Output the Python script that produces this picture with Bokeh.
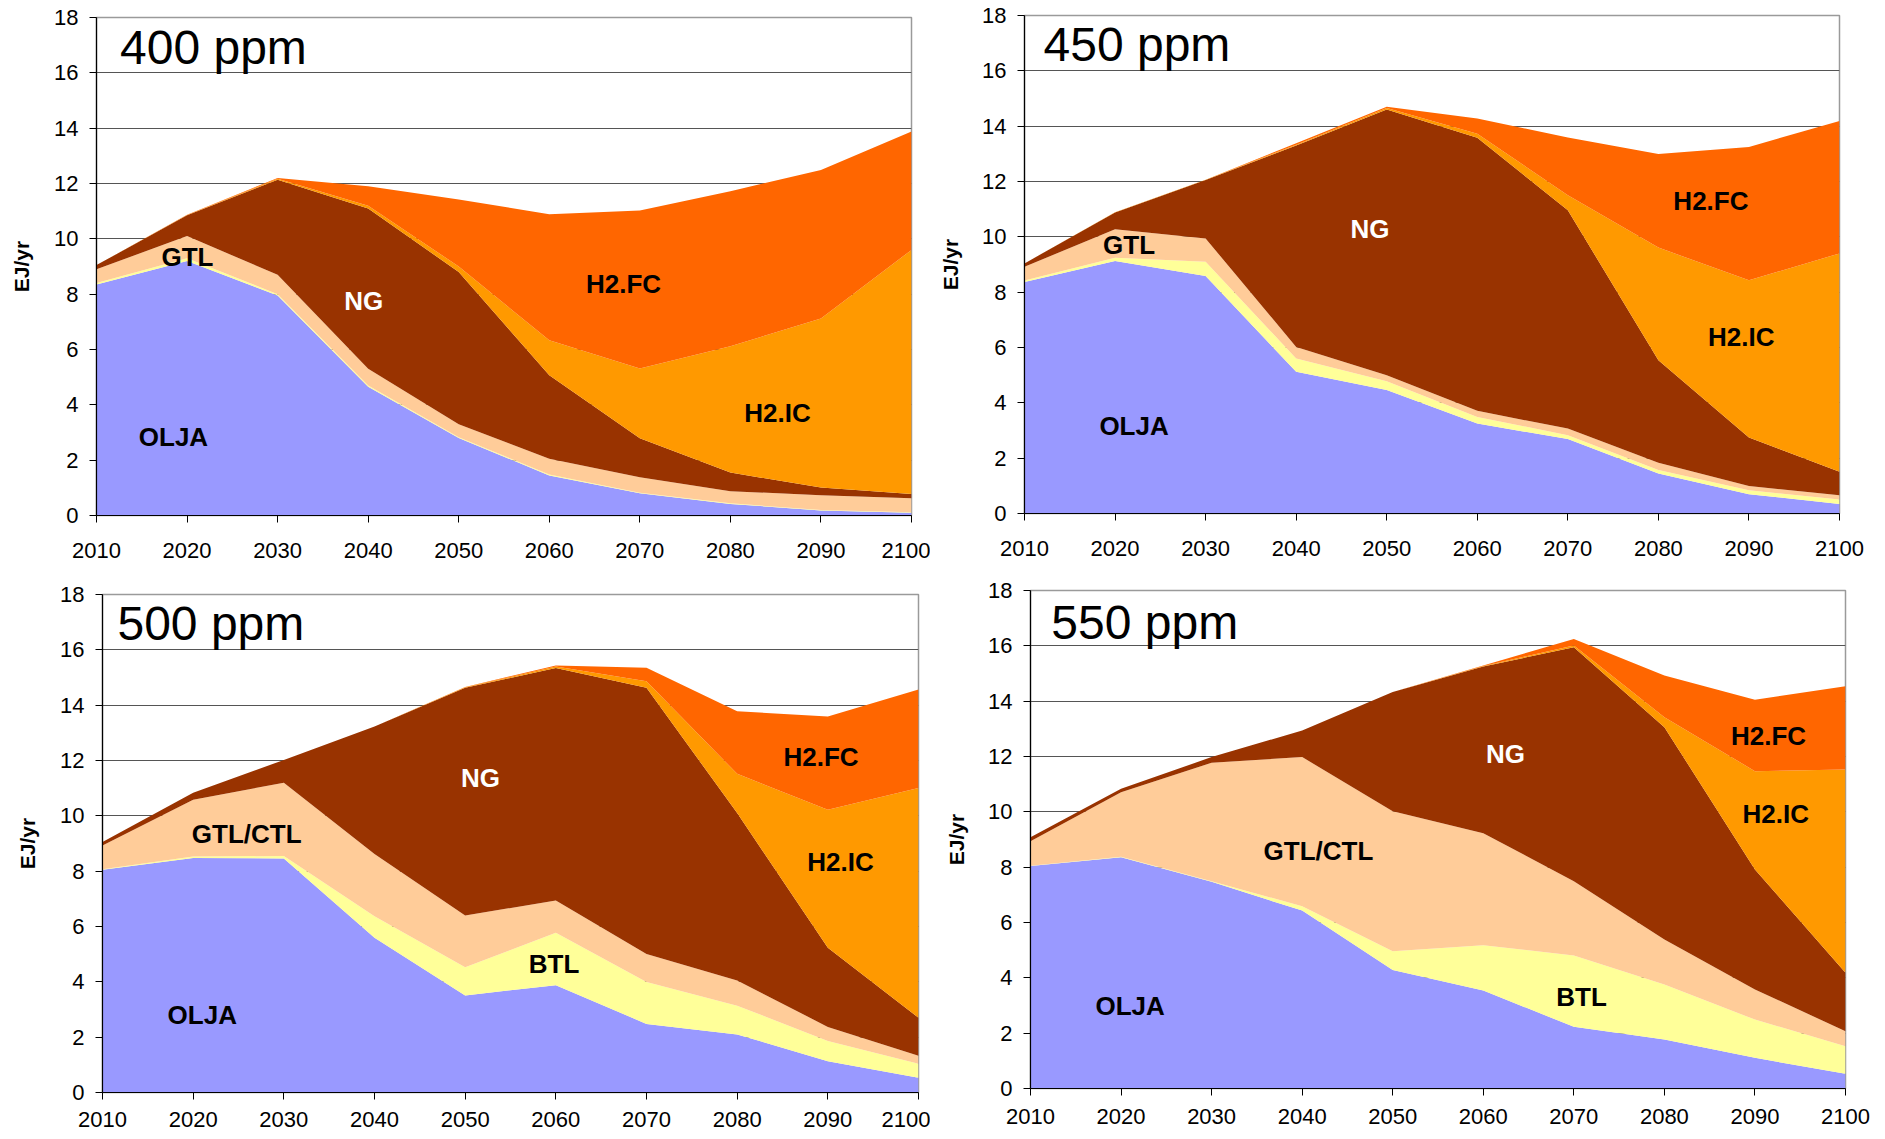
from bokeh.plotting import figure
from bokeh.models import ColumnDataSource, Range1d, FixedTicker, Label
from bokeh.layouts import row, column
from bokeh.embed import file_html
from bokeh.resources import INLINE

years = [2010, 2020, 2030, 2040, 2050, 2060, 2070, 2080, 2090, 2100]
y_ticks = [0, 2, 4, 6, 8, 10, 12, 14, 16, 18]
series_names = ["OLJA", "BTL", "GTL/CTL", "NG", "H2.IC", "H2.FC"]
series_colors = ["#9999FF", "#FFFF99", "#FFCC99", "#993300", "#FF9900", "#FF6600"]

# 400 ppm (EJ/yr, stacked from bottom)
olja_400 = [8.35, 9.20, 7.95, 4.65, 2.80, 1.45, 0.80, 0.42, 0.18, 0.10]
btl_400 = [0.05, 0.10, 0.05, 0.05, 0.03, 0.03, 0.02, 0.02, 0.02, 0.02]
gtl_400 = [0.50, 0.80, 0.70, 0.60, 0.47, 0.57, 0.56, 0.44, 0.53, 0.50]
ng_400 = [0.15, 0.75, 3.44, 5.80, 5.50, 3.02, 1.41, 0.67, 0.28, 0.16]
h2ic_400 = [0.00, 0.01, 0.03, 0.10, 0.20, 1.26, 2.52, 4.57, 6.11, 8.82]
h2fc_400 = [0.00, 0.01, 0.03, 0.70, 2.42, 4.56, 5.71, 5.60, 5.37, 4.28]

# 450 ppm
olja_450 = [8.37, 9.13, 8.58, 5.12, 4.46, 3.25, 2.69, 1.45, 0.70, 0.34]
btl_450 = [0.05, 0.11, 0.52, 0.48, 0.32, 0.24, 0.14, 0.12, 0.14, 0.17]
gtl_450 = [0.50, 1.03, 0.84, 0.42, 0.22, 0.22, 0.24, 0.26, 0.15, 0.15]
ng_450 = [0.12, 0.61, 2.11, 7.28, 9.60, 9.87, 7.89, 3.71, 1.76, 0.85]
h2ic_450 = [0.00, 0.01, 0.01, 0.03, 0.06, 0.15, 0.54, 4.07, 5.68, 7.89]
h2fc_450 = [0.00, 0.00, 0.00, 0.05, 0.04, 0.55, 2.09, 3.38, 4.82, 4.79]

# 500 ppm
olja_500 = [8.05, 8.48, 8.46, 5.59, 3.51, 3.88, 2.48, 2.10, 1.13, 0.53]
btl_500 = [0.02, 0.05, 0.09, 0.78, 1.02, 1.89, 1.51, 1.04, 0.73, 0.51]
gtl_500 = [0.86, 2.05, 2.65, 2.25, 1.87, 1.17, 1.02, 0.91, 0.51, 0.29]
ng_500 = [0.12, 0.25, 0.82, 4.61, 8.23, 8.40, 9.62, 6.05, 2.86, 1.37]
h2ic_500 = [0.00, 0.00, 0.00, 0.00, 0.02, 0.06, 0.23, 1.42, 4.99, 8.31]
h2fc_500 = [0.00, 0.00, 0.00, 0.00, 0.01, 0.03, 0.49, 2.26, 3.37, 3.56]

# 550 ppm
olja_550 = [8.04, 8.36, 7.47, 6.43, 4.28, 3.54, 2.23, 1.77, 1.11, 0.53]
btl_550 = [0.01, 0.02, 0.02, 0.16, 0.68, 1.64, 2.58, 1.99, 1.38, 1.00]
gtl_550 = [0.89, 2.33, 4.28, 5.39, 5.06, 4.05, 2.68, 1.63, 1.09, 0.54]
ng_550 = [0.14, 0.12, 0.21, 0.96, 4.31, 6.02, 8.46, 7.67, 4.34, 2.11]
h2ic_550 = [0.00, 0.00, 0.00, 0.00, 0.00, 0.02, 0.06, 0.36, 3.55, 7.35]
h2fc_550 = [0.00, 0.00, 0.00, 0.00, 0.00, 0.02, 0.24, 1.51, 2.58, 3.01]

# in-chart area labels: text, x, y, colour
labels_400 = [("OLJA", 2018.5, 2.84, "black"), ("GTL", 2020.05, 9.36, "black"),
              ("NG", 2039.5, 7.77, "white"), ("H2.FC", 2068.2, 8.38, "black"),
              ("H2.IC", 2085.2, 3.72, "black")]
labels_450 = [("OLJA", 2022.1, 3.16, "black"), ("GTL", 2021.55, 9.70, "black"),
              ("NG", 2048.15, 10.27, "white"), ("H2.FC", 2085.8, 11.29, "black"),
              ("H2.IC", 2089.15, 6.38, "black")]
labels_500 = [("OLJA", 2021.0, 2.80, "black"), ("BTL", 2059.8, 4.64, "black"),
              ("GTL/CTL", 2025.9, 9.35, "black"), ("NG", 2051.7, 11.36, "white"),
              ("H2.FC", 2089.25, 12.14, "black"), ("H2.IC", 2091.4, 8.32, "black")]
labels_550 = [("OLJA", 2021.0, 2.99, "black"), ("BTL", 2070.85, 3.31, "black"),
              ("GTL/CTL", 2041.8, 8.58, "black"), ("NG", 2062.45, 12.08, "white"),
              ("H2.FC", 2091.5, 12.74, "black"), ("H2.IC", 2092.3, 9.92, "black")]

FONT = "Liberation Sans"


def make_panel(title, title_xy, values, labels, geom):
    w, h, left, right, top, bottom, fw, ylab_std, xlab_std = geom
    p = figure(width=w, height=h,
               min_border_left=left, min_border_right=right,
               min_border_top=top, min_border_bottom=bottom,
               x_range=Range1d(2010, 2100), y_range=Range1d(0, 18),
               output_backend="svg", toolbar_location=None)
    keys = ["s%d" % i for i in range(len(values))]
    data = {"year": years}
    for k, v in zip(keys, values):
        data[k] = v
    src = ColumnDataSource(data)
    p.varea_stack(stackers=keys, x="year", color=series_colors, source=src)

    p.background_fill_color = "white"
    p.border_fill_color = "white"
    p.outline_line_color = "#9a9a9a"
    p.outline_line_width = 1.5

    p.xgrid.visible = False
    p.ygrid.ticker = FixedTicker(ticks=y_ticks)
    p.ygrid.grid_line_color = "#555555"
    p.ygrid.grid_line_width = 1

    p.xaxis.ticker = FixedTicker(ticks=years)
    p.yaxis.ticker = FixedTicker(ticks=y_ticks)
    for ax in (p.xaxis[0], p.yaxis[0]):
        ax.axis_line_color = "black"
        ax.axis_line_width = 1.2
        ax.major_tick_line_color = "black"
        ax.major_tick_in = 0
        ax.major_tick_out = 7
        ax.minor_tick_line_color = None
        ax.major_label_text_font = FONT
        ax.major_label_text_font_size = "22px"
        ax.major_label_text_color = "black"
    p.yaxis.major_label_standoff = 11
    p.xaxis.major_label_standoff = xlab_std
    p.yaxis.axis_label = "EJ/yr"
    p.yaxis.axis_label_text_font = FONT
    p.yaxis.axis_label_text_font_size = "21px"
    p.yaxis.axis_label_text_font_style = "bold"
    p.yaxis.axis_label_text_color = "black"
    p.yaxis.axis_label_standoff = ylab_std

    p.add_layout(Label(x=title_xy[0], y=title_xy[1], text=title,
                       text_font=FONT, text_font_size="48px",
                       text_align="left", text_baseline="middle",
                       text_color="black"))
    for txt, x, y, c in labels:
        p.add_layout(Label(x=x, y=y, text=txt, text_font=FONT,
                           text_font_size="26px", text_font_style="bold",
                           text_align="center", text_baseline="middle",
                           text_color=c))
    return p


# geometry: width, height, left, right, top, bottom, frame width, y-label standoff, x-label standoff
p1 = make_panel("400 ppm", (2012.6, 16.91),
                [olja_400, btl_400, gtl_400, ng_400, h2ic_400, h2fc_400],
                labels_400, (930, 569, 96, 19, 17, 54, 815, 18, 20))
p2 = make_panel("450 ppm", (2012.1, 16.95),
                [olja_450, btl_450, gtl_450, ng_450, h2ic_450, h2fc_450],
                labels_450, (950, 569, 94, 41, 15, 56, 815, 17, 20))
p3 = make_panel("500 ppm", (2011.65, 16.94),
                [olja_500, btl_500, gtl_500, ng_500, h2ic_500, h2fc_500],
                labels_500, (930, 569, 102, 12, 25, 46, 816, 18, 12))
p4 = make_panel("550 ppm", (2012.3, 16.86),
                [olja_550, btl_550, gtl_550, ng_550, h2ic_550, h2fc_550],
                labels_550, (950, 569, 100, 35, 21, 50, 815, 17, 13))

# each figure wrapped on its own so that frames are not aligned across a row
layout = column(row(column(p1), column(p2)), row(column(p3), column(p4)))
open("out.html", "w").write(file_html(layout, INLINE))
